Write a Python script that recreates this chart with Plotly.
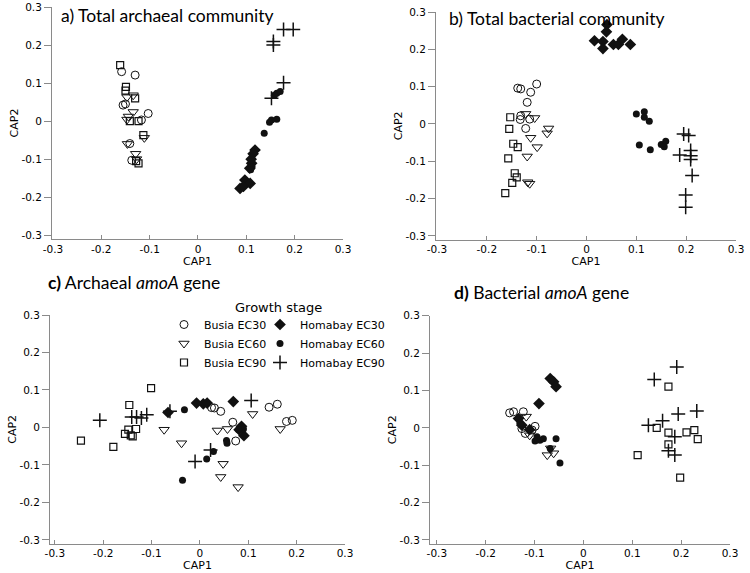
import plotly.graph_objects as go

W, H = 750, 573

# ---------------- data ----------------
TICK_VALS = [-0.3, -0.2, -0.1, 0, 0.1, 0.2, 0.3]
TICK_TEXT = ["-0.3", "-0.2", "-0.1", "0", "0.1", "0.2", "0.3"]

GROUP_NAMES = ["Busia EC30", "Busia EC60", "Busia EC90",
               "Homabay EC30", "Homabay EC60", "Homabay EC90"]

PANEL_TITLES = ["a) Total archaeal community",
                "b) Total bacterial community",
                "<b>c)</b> Archaeal <i>amoA</i> gene",
                "<b>d)</b> Bacterial <i>amoA</i> gene"]

LEGEND_TITLE = "Growth stage"
X_TITLE = "CAP1"
Y_TITLE = "CAP2"

# panel a: total archaeal community
A_B30_X = [-0.158, -0.130, -0.155, -0.150, -0.103, -0.117, -0.141, -0.137]
A_B30_Y = [0.130, 0.121, 0.042, 0.045, 0.020, 0.003, -0.059, -0.103]
A_B60_X = [-0.134, -0.147, -0.134, -0.144, -0.147, -0.111, -0.146, -0.129, -0.127]
A_B60_Y = [0.068, 0.063, 0.024, 0.012, 0.004, -0.044, -0.060, -0.086, -0.100]
A_B90_X = [-0.161, -0.149, -0.150, -0.130, -0.141, -0.123, -0.113, -0.123, -0.128]
A_B90_Y = [0.147, 0.090, 0.080, 0.060, 0.000, 0.000, -0.037, -0.111, -0.105]
A_H30_X = [0.118, 0.114, 0.111, 0.107, 0.110, 0.097, 0.108, 0.087, 0.094]
A_H30_Y = [-0.076, -0.086, -0.111, -0.124, -0.100, -0.155, -0.164, -0.177, -0.172]
A_H60_X = [0.163, 0.170, 0.158, 0.152, 0.163, 0.148, 0.137, 0.112, 0.109]
A_H60_Y = [0.073, 0.078, 0.068, 0.003, 0.005, -0.003, -0.032, -0.120, -0.128]
A_H90_X = [0.177, 0.197, 0.156, 0.156, 0.177, 0.152]
A_H90_Y = [0.241, 0.241, 0.209, 0.200, 0.101, 0.060]

# panel b: total bacterial community
B_B30_X = [-0.138, -0.132, -0.100, -0.112, -0.119, -0.132, -0.133, -0.114, -0.122]
B_B30_Y = [0.096, 0.094, 0.107, 0.085, 0.058, 0.022, 0.012, 0.013, -0.012]
B_B60_X = [-0.122, -0.104, -0.076, -0.079, -0.112, -0.099, -0.119, -0.118, -0.114]
B_B60_Y = [0.027, 0.016, -0.012, -0.025, -0.037, -0.062, -0.087, -0.156, -0.160]
B_B90_X = [-0.153, -0.155, -0.147, -0.138, -0.157, -0.144, -0.149, -0.140, -0.163]
B_B90_Y = [0.018, -0.013, -0.053, -0.062, -0.092, -0.132, -0.158, -0.143, -0.185]
B_H30_X = [0.041, 0.040, 0.016, 0.033, 0.033, 0.054, 0.064, 0.072, 0.088]
B_H30_Y = [0.266, 0.247, 0.223, 0.221, 0.202, 0.213, 0.213, 0.227, 0.213]
B_H60_X = [0.100, 0.116, 0.116, 0.126, 0.106, 0.128, 0.150, 0.159, 0.156]
B_H60_Y = [0.027, 0.033, 0.018, 0.007, -0.056, -0.069, -0.055, -0.046, -0.061]
B_H90_X = [0.195, 0.205, 0.209, 0.187, 0.209, 0.209, 0.212, 0.199, 0.199]
B_H90_Y = [-0.027, -0.031, -0.071, -0.083, -0.085, -0.095, -0.138, -0.190, -0.223]

# panel c: archaeal amoA gene
C_B30_X = [0.024, 0.030, 0.043, 0.068, 0.074, 0.143, 0.160, 0.179, 0.191]
C_B30_Y = [0.053, 0.052, 0.043, 0.014, -0.036, 0.054, 0.062, 0.016, 0.019]
C_B60_X = [-0.074, -0.038, 0.036, 0.057, 0.109, 0.166, 0.048, 0.043, 0.079]
C_B60_Y = [-0.006, -0.042, -0.008, -0.004, 0.036, -0.004, -0.097, -0.132, -0.159]
C_B90_X = [-0.101, -0.146, -0.132, -0.148, -0.155, -0.143, -0.139, -0.246, -0.179]
C_B90_Y = [0.105, 0.060, -0.004, -0.006, -0.017, -0.021, -0.024, -0.035, -0.052]
C_H30_X = [-0.066, -0.007, 0.007, 0.015, 0.069, 0.086, 0.081, 0.091]
C_H30_Y = [0.040, 0.065, 0.063, 0.065, 0.069, 0.003, -0.006, -0.022]
C_H60_X = [-0.032, 0.055, 0.056, 0.028, 0.014, -0.036, 0.090, 0.080]
C_H60_Y = [0.047, -0.035, -0.042, -0.064, -0.084, -0.141, -0.004, -0.006]
C_H90_X = [-0.207, -0.141, -0.131, -0.121, -0.110, 0.106, 0.022, -0.010, -0.062]
C_H90_Y = [0.019, 0.028, 0.028, 0.025, 0.034, 0.072, -0.060, -0.091, 0.043]

# panel d: bacterial amoA gene
D_B30_X = [-0.151, -0.143, -0.123, -0.126, -0.099, -0.119, -0.105]
D_B30_Y = [0.040, 0.043, 0.043, -0.002, 0.004, -0.015, -0.006]
D_B60_X = [-0.117, -0.074, -0.061, -0.067, -0.110]
D_B60_Y = [0.030, -0.073, -0.068, -0.055, -0.020]
D_B90_X = [0.174, 0.150, 0.174, 0.174, 0.211, 0.227, 0.234, 0.111, 0.198]
D_B90_Y = [0.110, 0.000, -0.013, -0.044, -0.012, -0.006, -0.030, -0.073, -0.133]
D_H30_X = [-0.068, -0.061, -0.056, -0.091, -0.133, -0.126, -0.110]
D_H30_Y = [0.132, 0.123, 0.110, 0.065, 0.025, 0.007, -0.005]
D_H60_X = [-0.130, -0.095, -0.089, -0.082, -0.056, -0.068, -0.048, -0.099]
D_H60_Y = [0.012, -0.024, -0.033, -0.029, -0.029, -0.055, -0.094, -0.035]
D_H90_X = [0.191, 0.145, 0.194, 0.232, 0.162, 0.133, 0.187, 0.174, 0.187]
D_H90_Y = [0.163, 0.129, 0.037, 0.045, 0.019, 0.007, -0.024, -0.061, -0.073]

PANEL_DATA = [
    [(A_B30_X, A_B30_Y), (A_B60_X, A_B60_Y), (A_B90_X, A_B90_Y),
     (A_H30_X, A_H30_Y), (A_H60_X, A_H60_Y), (A_H90_X, A_H90_Y)],
    [(B_B30_X, B_B30_Y), (B_B60_X, B_B60_Y), (B_B90_X, B_B90_Y),
     (B_H30_X, B_H30_Y), (B_H60_X, B_H60_Y), (B_H90_X, B_H90_Y)],
    [(C_B30_X, C_B30_Y), (C_B60_X, C_B60_Y), (C_B90_X, C_B90_Y),
     (C_H30_X, C_H30_Y), (C_H60_X, C_H60_Y), (C_H90_X, C_H90_Y)],
    [(D_B30_X, D_B30_Y), (D_B60_X, D_B60_Y), (D_B90_X, D_B90_Y),
     (D_H30_X, D_H30_Y), (D_H60_X, D_H60_Y), (D_H90_X, D_H90_Y)],
]

# ---------------- styling / layout ----------------
INK = "#111111"
AXIS_GREY = "#8a8a8a"
GROUP_STYLE = [
    dict(symbol="circle-open", size=8, lw=1.0),
    dict(symbol="triangle-down-open", size=9, lw=1.0),
    dict(symbol="square-open", size=7, lw=1.2),
    dict(symbol="diamond", size=9, lw=0),
    dict(symbol="circle", size=7, lw=0),
    dict(symbol="cross-thin", size=10, lw=1.5),
]
GROUP_LEGEND = ["legend", "legend", "legend", "legend2", "legend2", "legend2"]

def fx(p):
    return p / W

def fy(p):
    return 1 - p / H

# pixel boxes and x/y axis ranges per panel
PANEL_BOX = [
    dict(xd=[fx(52), fx(343)], yd=[fy(239), fy(7)], xr=[-0.302, 0.3], yr=[-0.31, 0.3]),
    dict(xd=[fx(436), fx(736)], yd=[fy(239.7), fy(12)], xr=[-0.302, 0.3], yr=[-0.31, 0.3]),
    dict(xd=[fx(50), fx(345)], yd=[fy(543.7), fy(315)], xr=[-0.310, 0.3], yr=[-0.31, 0.3]),
    dict(xd=[fx(430), fx(730)], yd=[fy(543.7), fy(315.7)], xr=[-0.314, 0.3], yr=[-0.31, 0.3]),
]
TITLE_POS = [(59, 16), (447, 18), (46, 283), (452, 292)]

fig = go.Figure()

for p, groups in enumerate(PANEL_DATA):
    xa = "x" if p == 0 else f"x{p+1}"
    ya = "y" if p == 0 else f"y{p+1}"
    for g, (xs, ys) in enumerate(groups):
        st = GROUP_STYLE[g]
        fig.add_trace(go.Scatter(
            x=xs, y=ys, mode="markers", xaxis=xa, yaxis=ya,
            name=GROUP_NAMES[g], legend=GROUP_LEGEND[g],
            showlegend=(p == 0), legendgroup=GROUP_NAMES[g],
            marker=dict(symbol=st["symbol"], size=st["size"], color=INK,
                        line=dict(color=INK, width=st["lw"])),
            hoverinfo="x+y+name",
        ))

tickfont = dict(family="DejaVu Sans", size=10.5, color="black")
titlefont = dict(family="DejaVu Sans", size=11, color="black")

layout = dict(
    width=W, height=H,
    margin=dict(l=0, r=0, t=0, b=0),
    paper_bgcolor="white", plot_bgcolor="white",
    font=dict(family="DejaVu Sans", color="black"),
)

for p, box in enumerate(PANEL_BOX):
    xk = "xaxis" if p == 0 else f"xaxis{p+1}"
    yk = "yaxis" if p == 0 else f"yaxis{p+1}"
    xa_ref = "x" if p == 0 else f"x{p+1}"
    ya_ref = "y" if p == 0 else f"y{p+1}"
    layout[xk] = dict(
        domain=box["xd"], range=box["xr"], anchor=ya_ref,
        showline=True, linecolor=AXIS_GREY, linewidth=1,
        showgrid=False, zeroline=False,
        tickmode="array", tickvals=TICK_VALS, ticktext=TICK_TEXT,
        ticks="inside", ticklen=4, tickcolor=AXIS_GREY, tickwidth=1,
        tickfont=tickfont,
        title=dict(text=X_TITLE, font=titlefont, standoff=2),
        automargin=False,
    )
    layout[yk] = dict(
        domain=box["yd"], range=box["yr"], anchor=xa_ref,
        showline=True, linecolor=AXIS_GREY, linewidth=1,
        showgrid=False, zeroline=False,
        tickmode="array", tickvals=TICK_VALS, ticktext=TICK_TEXT,
        ticks="outside", ticklen=7, tickcolor=AXIS_GREY, tickwidth=1,
        tickfont=tickfont,
        title=dict(text=Y_TITLE, font=titlefont, standoff=0),
        automargin=False,
    )

legend_common = dict(
    font=dict(family="DejaVu Sans", size=11, color="black"),
    bgcolor="rgba(0,0,0,0)", borderwidth=0,
    yanchor="top", xanchor="left", orientation="v",
    tracegroupgap=0, itemclick=False, itemdoubleclick=False,
)
layout["legend"] = dict(legend_common, x=fx(184 - 20), y=fy(310))
layout["legend2"] = dict(legend_common, x=fx(280 - 20), y=fy(310))

annotations = []
for t, (px, py) in zip(PANEL_TITLES, TITLE_POS):
    annotations.append(dict(
        text=t, xref="paper", yref="paper", x=fx(px), y=fy(py),
        xanchor="left", yanchor="middle", showarrow=False,
        font=dict(family="Lato", size=17.5, color="black"),
    ))
annotations.append(dict(
    text=LEGEND_TITLE, xref="paper", yref="paper", x=fx(278), y=fy(307),
    xanchor="center", yanchor="middle", showarrow=False,
    font=dict(family="DejaVu Sans", size=13, color="black"),
))
layout["annotations"] = annotations

fig.update_layout(**layout)
# remove the browser's default 8px body margin so the figure sits at (0, 0)
fig.write_html("out.html",
               config={"displayModeBar": False},
               post_script="document.body.style.margin='0';document.body.style.padding='0';")
